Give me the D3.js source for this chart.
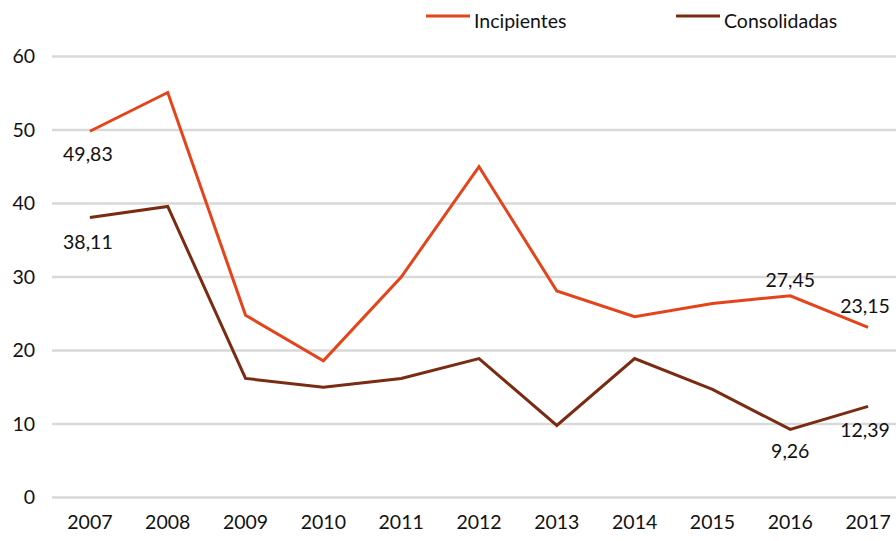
<!DOCTYPE html>
<html>
<head>
<meta charset="utf-8">
<script src="https://cdn.jsdelivr.net/npm/d3@7"></script>
<style>
  html, body { margin: 0; padding: 0; background: #fff; }
  svg { display: block; }
  text { font-family: Lato, "Open Sans", sans-serif; fill: #111; }
</style>
</head>
<body>
<svg id="chart" width="896" height="541"></svg>
<script>
// Years on the horizontal axis
const years = ["2007","2008","2009","2010","2011","2012","2013","2014","2015","2016","2017"];

// Series values
const incipientes  = [49.83, 55.1, 24.8, 18.6, 30.0, 45.0, 28.1, 24.6, 26.4, 27.45, 23.15];
const consolidadas = [38.11, 39.6, 16.2, 15.0, 16.2, 18.9, 9.8, 18.9, 14.7, 9.26, 12.39];

// Vertical axis ticks
const yTicks = [0, 10, 20, 30, 40, 50, 60];

// Series names and colours
const seriesNames = ["Incipientes", "Consolidadas"];
const seriesColors = ["#E5441B", "#7A2C12"];

// Which points carry a value label, and the vertical offset from the point
const labelsInc = [{i: 0, dy: 22}, {i: 9, dy: -16}, {i: 10, dy: -22}];
const labelsCon = [{i: 0, dy: 24}, {i: 9, dy: 21}, {i: 10, dy: 23}];

const FS = "19.5px";
const svg = d3.select("#chart");

const x = d3.scaleBand().domain(years).range([51, 907]);
const y = d3.scaleLinear().domain([0, 60]).range([497.5, 56.5]);
const cx = d => x(d) + x.bandwidth() / 2;

// Horizontal gridlines
svg.append("g").selectAll("line").data(yTicks).join("line")
  .attr("x1", 52).attr("x2", 896)
  .attr("y1", d => y(d)).attr("y2", d => y(d))
  .attr("stroke", "#D9D9D9").attr("stroke-width", 2.5);

// Y axis labels
const yAxis = svg.append("g").attr("transform", "translate(35,0)")
  .call(d3.axisLeft(y).tickValues(yTicks).tickSize(0).tickPadding(0).tickFormat(d3.format("d")));
yAxis.select(".domain").remove();
yAxis.selectAll("text").style("font-size", FS).attr("font-family", null).attr("fill", "#111");

// X axis labels
const xAxis = svg.append("g").attr("transform", "translate(0,515)")
  .call(d3.axisBottom(x).tickSize(0).tickPadding(0));
xAxis.select(".domain").remove();
xAxis.selectAll("text").style("font-size", FS).attr("font-family", null).attr("fill", "#111");

// Lines
const line = d3.line().x((d, i) => cx(years[i])).y(d => y(d));
[incipientes, consolidadas].forEach((vals, k) => {
  svg.append("path").datum(vals)
    .attr("fill", "none")
    .attr("stroke", seriesColors[k])
    .attr("stroke-width", 3)
    .attr("stroke-linejoin", "miter")
    .attr("d", line);
});

// Value labels
const fmt = v => d3.format(".2f")(v).replace(".", ",");
function addLabels(vals, specs) {
  svg.append("g").selectAll("text").data(specs).join("text")
    .attr("x", s => cx(years[s.i]) + (s.i === 0 ? -2 : (s.i === 10 ? -3 : 0)))
    .attr("y", s => y(vals[s.i]) + s.dy)
    .attr("text-anchor", "middle")
    .attr("dominant-baseline", "central")
    .style("font-size", FS)
    .text(s => fmt(vals[s.i]));
}
addLabels(incipientes, labelsInc);
addLabels(consolidadas, labelsCon);

// Legend
const legendX = [426, 676];
const legend = svg.append("g");
seriesNames.forEach((name, k) => {
  legend.append("line")
    .attr("x1", legendX[k]).attr("x2", legendX[k] + 44)
    .attr("y1", 16).attr("y2", 16)
    .attr("stroke", seriesColors[k]).attr("stroke-width", 3);
  legend.append("text")
    .attr("x", legendX[k] + 48).attr("y", 20)
    .attr("dominant-baseline", "central")
    .style("font-size", FS)
    .text(name);
});
</script>
</body>
</html>
